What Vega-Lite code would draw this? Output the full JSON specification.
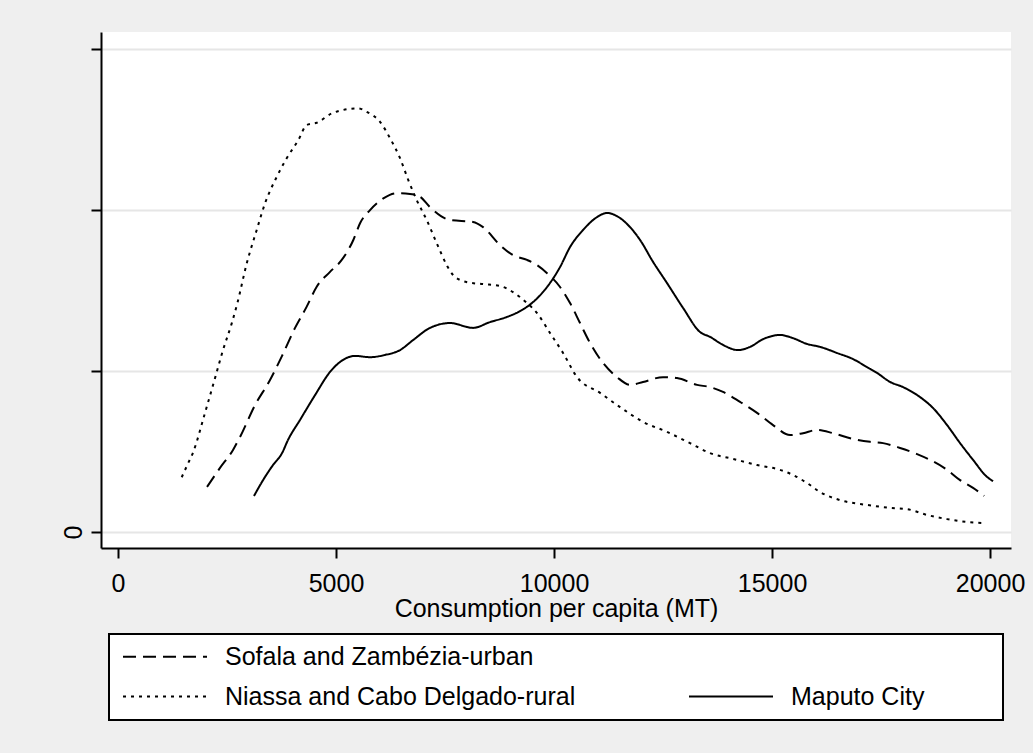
{
  "$schema": "https://vega.github.io/schema/vega-lite/v6.json",
  "width": 910,
  "height": 516,
  "autosize": {"type": "none"},
  "padding": {"left": 101, "top": 32, "right": 22, "bottom": 205},
  "background": "#efefef",
  "config": {
    "view": {"fill": "white", "stroke": null},
    "font": "Liberation Sans",
    "legend": {"strokeWidth": 2}
  },
  "data": {
    "values": [
      {"region": "Sofala and Zambézia-urban", "consumption": 2041, "density": 1.40},
      {"region": "Sofala and Zambézia-urban", "consumption": 2339, "density": 1.99},
      {"region": "Sofala and Zambézia-urban", "consumption": 2638, "density": 2.55},
      {"region": "Sofala and Zambézia-urban", "consumption": 2798, "density": 2.95},
      {"region": "Sofala and Zambézia-urban", "consumption": 3142, "density": 3.94},
      {"region": "Sofala and Zambézia-urban", "consumption": 3486, "density": 4.72},
      {"region": "Sofala and Zambézia-urban", "consumption": 3762, "density": 5.47},
      {"region": "Sofala and Zambézia-urban", "consumption": 4060, "density": 6.34},
      {"region": "Sofala and Zambézia-urban", "consumption": 4328, "density": 7.00},
      {"region": "Sofala and Zambézia-urban", "consumption": 4557, "density": 7.62},
      {"region": "Sofala and Zambézia-urban", "consumption": 4862, "density": 8.08},
      {"region": "Sofala and Zambézia-urban", "consumption": 5131, "density": 8.45},
      {"region": "Sofala and Zambézia-urban", "consumption": 5397, "density": 9.07},
      {"region": "Sofala and Zambézia-urban", "consumption": 5551, "density": 9.59},
      {"region": "Sofala and Zambézia-urban", "consumption": 5780, "density": 10.00},
      {"region": "Sofala and Zambézia-urban", "consumption": 6085, "density": 10.36},
      {"region": "Sofala and Zambézia-urban", "consumption": 6392, "density": 10.52},
      {"region": "Sofala and Zambézia-urban", "consumption": 6697, "density": 10.50},
      {"region": "Sofala and Zambézia-urban", "consumption": 6927, "density": 10.41},
      {"region": "Sofala and Zambézia-urban", "consumption": 7156, "density": 10.09},
      {"region": "Sofala and Zambézia-urban", "consumption": 7615, "density": 9.69},
      {"region": "Sofala and Zambézia-urban", "consumption": 8142, "density": 9.63},
      {"region": "Sofala and Zambézia-urban", "consumption": 8372, "density": 9.47},
      {"region": "Sofala and Zambézia-urban", "consumption": 8762, "density": 8.91},
      {"region": "Sofala and Zambézia-urban", "consumption": 9060, "density": 8.60},
      {"region": "Sofala and Zambézia-urban", "consumption": 9381, "density": 8.45},
      {"region": "Sofala and Zambézia-urban", "consumption": 9610, "density": 8.29},
      {"region": "Sofala and Zambézia-urban", "consumption": 9840, "density": 8.04},
      {"region": "Sofala and Zambézia-urban", "consumption": 10138, "density": 7.61},
      {"region": "Sofala and Zambézia-urban", "consumption": 10367, "density": 7.11},
      {"region": "Sofala and Zambézia-urban", "consumption": 10596, "density": 6.49},
      {"region": "Sofala and Zambézia-urban", "consumption": 10826, "density": 5.87},
      {"region": "Sofala and Zambézia-urban", "consumption": 11124, "density": 5.25},
      {"region": "Sofala and Zambézia-urban", "consumption": 11445, "density": 4.81},
      {"region": "Sofala and Zambézia-urban", "consumption": 11743, "density": 4.57},
      {"region": "Sofala and Zambézia-urban", "consumption": 12041, "density": 4.66},
      {"region": "Sofala and Zambézia-urban", "consumption": 12500, "density": 4.81},
      {"region": "Sofala and Zambézia-urban", "consumption": 12821, "density": 4.78},
      {"region": "Sofala and Zambézia-urban", "consumption": 13280, "density": 4.57},
      {"region": "Sofala and Zambézia-urban", "consumption": 13578, "density": 4.50},
      {"region": "Sofala and Zambézia-urban", "consumption": 13876, "density": 4.35},
      {"region": "Sofala and Zambézia-urban", "consumption": 14266, "density": 4.04},
      {"region": "Sofala and Zambézia-urban", "consumption": 14656, "density": 3.70},
      {"region": "Sofala and Zambézia-urban", "consumption": 15023, "density": 3.32},
      {"region": "Sofala and Zambézia-urban", "consumption": 15413, "density": 3.01},
      {"region": "Sofala and Zambézia-urban", "consumption": 15711, "density": 3.07},
      {"region": "Sofala and Zambézia-urban", "consumption": 16032, "density": 3.17},
      {"region": "Sofala and Zambézia-urban", "consumption": 16399, "density": 3.07},
      {"region": "Sofala and Zambézia-urban", "consumption": 16858, "density": 2.89},
      {"region": "Sofala and Zambézia-urban", "consumption": 17248, "density": 2.80},
      {"region": "Sofala and Zambézia-urban", "consumption": 17546, "density": 2.76},
      {"region": "Sofala and Zambézia-urban", "consumption": 17936, "density": 2.61},
      {"region": "Sofala and Zambézia-urban", "consumption": 18326, "density": 2.42},
      {"region": "Sofala and Zambézia-urban", "consumption": 18624, "density": 2.24},
      {"region": "Sofala and Zambézia-urban", "consumption": 19014, "density": 1.93},
      {"region": "Sofala and Zambézia-urban", "consumption": 19312, "density": 1.61},
      {"region": "Sofala and Zambézia-urban", "consumption": 19610, "density": 1.37},
      {"region": "Sofala and Zambézia-urban", "consumption": 19863, "density": 1.12},

      {"region": "Niassa and Cabo Delgado-rural", "consumption": 1461, "density": 1.70},
      {"region": "Niassa and Cabo Delgado-rural", "consumption": 1589, "density": 2.08},
      {"region": "Niassa and Cabo Delgado-rural", "consumption": 1727, "density": 2.49},
      {"region": "Niassa and Cabo Delgado-rural", "consumption": 1995, "density": 3.70},
      {"region": "Niassa and Cabo Delgado-rural", "consumption": 2225, "density": 4.78},
      {"region": "Niassa and Cabo Delgado-rural", "consumption": 2408, "density": 5.65},
      {"region": "Niassa and Cabo Delgado-rural", "consumption": 2608, "density": 6.48},
      {"region": "Niassa and Cabo Delgado-rural", "consumption": 2736, "density": 7.10},
      {"region": "Niassa and Cabo Delgado-rural", "consumption": 2952, "density": 8.34},
      {"region": "Niassa and Cabo Delgado-rural", "consumption": 3181, "density": 9.38},
      {"region": "Niassa and Cabo Delgado-rural", "consumption": 3372, "density": 10.21},
      {"region": "Niassa and Cabo Delgado-rural", "consumption": 3640, "density": 11.03},
      {"region": "Niassa and Cabo Delgado-rural", "consumption": 3869, "density": 11.61},
      {"region": "Niassa and Cabo Delgado-rural", "consumption": 4135, "density": 12.17},
      {"region": "Niassa and Cabo Delgado-rural", "consumption": 4328, "density": 12.64},
      {"region": "Niassa and Cabo Delgado-rural", "consumption": 4557, "density": 12.71},
      {"region": "Niassa and Cabo Delgado-rural", "consumption": 4901, "density": 13.00},
      {"region": "Niassa and Cabo Delgado-rural", "consumption": 5168, "density": 13.11},
      {"region": "Niassa and Cabo Delgado-rural", "consumption": 5512, "density": 13.16},
      {"region": "Niassa and Cabo Delgado-rural", "consumption": 5704, "density": 13.05},
      {"region": "Niassa and Cabo Delgado-rural", "consumption": 6009, "density": 12.74},
      {"region": "Niassa and Cabo Delgado-rural", "consumption": 6239, "density": 12.23},
      {"region": "Niassa and Cabo Delgado-rural", "consumption": 6468, "density": 11.61},
      {"region": "Niassa and Cabo Delgado-rural", "consumption": 6658, "density": 10.93},
      {"region": "Niassa and Cabo Delgado-rural", "consumption": 6851, "density": 10.31},
      {"region": "Niassa and Cabo Delgado-rural", "consumption": 7080, "density": 9.69},
      {"region": "Niassa and Cabo Delgado-rural", "consumption": 7310, "density": 8.97},
      {"region": "Niassa and Cabo Delgado-rural", "consumption": 7539, "density": 8.29},
      {"region": "Niassa and Cabo Delgado-rural", "consumption": 7684, "density": 7.98},
      {"region": "Niassa and Cabo Delgado-rural", "consumption": 8005, "density": 7.76},
      {"region": "Niassa and Cabo Delgado-rural", "consumption": 8372, "density": 7.70},
      {"region": "Niassa and Cabo Delgado-rural", "consumption": 8762, "density": 7.64},
      {"region": "Niassa and Cabo Delgado-rural", "consumption": 9060, "density": 7.45},
      {"region": "Niassa and Cabo Delgado-rural", "consumption": 9381, "density": 7.11},
      {"region": "Niassa and Cabo Delgado-rural", "consumption": 9610, "density": 6.80},
      {"region": "Niassa and Cabo Delgado-rural", "consumption": 9908, "density": 6.18},
      {"region": "Niassa and Cabo Delgado-rural", "consumption": 10207, "density": 5.56},
      {"region": "Niassa and Cabo Delgado-rural", "consumption": 10528, "density": 4.81},
      {"region": "Niassa and Cabo Delgado-rural", "consumption": 11055, "density": 4.32},
      {"region": "Niassa and Cabo Delgado-rural", "consumption": 11514, "density": 3.88},
      {"region": "Niassa and Cabo Delgado-rural", "consumption": 12041, "density": 3.42},
      {"region": "Niassa and Cabo Delgado-rural", "consumption": 12592, "density": 3.11},
      {"region": "Niassa and Cabo Delgado-rural", "consumption": 13119, "density": 2.76},
      {"region": "Niassa and Cabo Delgado-rural", "consumption": 13578, "density": 2.45},
      {"region": "Niassa and Cabo Delgado-rural", "consumption": 14106, "density": 2.27},
      {"region": "Niassa and Cabo Delgado-rural", "consumption": 14656, "density": 2.08},
      {"region": "Niassa and Cabo Delgado-rural", "consumption": 15184, "density": 1.93},
      {"region": "Niassa and Cabo Delgado-rural", "consumption": 15482, "density": 1.77},
      {"region": "Niassa and Cabo Delgado-rural", "consumption": 15803, "density": 1.52},
      {"region": "Niassa and Cabo Delgado-rural", "consumption": 16101, "density": 1.24},
      {"region": "Niassa and Cabo Delgado-rural", "consumption": 16560, "density": 0.99},
      {"region": "Niassa and Cabo Delgado-rural", "consumption": 17179, "density": 0.84},
      {"region": "Niassa and Cabo Delgado-rural", "consumption": 17707, "density": 0.75},
      {"region": "Niassa and Cabo Delgado-rural", "consumption": 18097, "density": 0.71},
      {"region": "Niassa and Cabo Delgado-rural", "consumption": 18555, "density": 0.53},
      {"region": "Niassa and Cabo Delgado-rural", "consumption": 19014, "density": 0.40},
      {"region": "Niassa and Cabo Delgado-rural", "consumption": 19473, "density": 0.31},
      {"region": "Niassa and Cabo Delgado-rural", "consumption": 19840, "density": 0.28},

      {"region": "Maputo City", "consumption": 3119, "density": 1.12},
      {"region": "Maputo City", "consumption": 3326, "density": 1.61},
      {"region": "Maputo City", "consumption": 3555, "density": 2.08},
      {"region": "Maputo City", "consumption": 3762, "density": 2.45},
      {"region": "Maputo City", "consumption": 3899, "density": 2.86},
      {"region": "Maputo City", "consumption": 4174, "density": 3.48},
      {"region": "Maputo City", "consumption": 4518, "density": 4.25},
      {"region": "Maputo City", "consumption": 4862, "density": 4.97},
      {"region": "Maputo City", "consumption": 5092, "density": 5.28},
      {"region": "Maputo City", "consumption": 5436, "density": 5.47},
      {"region": "Maputo City", "consumption": 5780, "density": 5.43},
      {"region": "Maputo City", "consumption": 6124, "density": 5.50},
      {"region": "Maputo City", "consumption": 6468, "density": 5.65},
      {"region": "Maputo City", "consumption": 6766, "density": 5.96},
      {"region": "Maputo City", "consumption": 7156, "density": 6.34},
      {"region": "Maputo City", "consumption": 7615, "density": 6.49},
      {"region": "Maputo City", "consumption": 8142, "density": 6.34},
      {"region": "Maputo City", "consumption": 8532, "density": 6.52},
      {"region": "Maputo City", "consumption": 8922, "density": 6.68},
      {"region": "Maputo City", "consumption": 9220, "density": 6.86},
      {"region": "Maputo City", "consumption": 9518, "density": 7.14},
      {"region": "Maputo City", "consumption": 9840, "density": 7.61},
      {"region": "Maputo City", "consumption": 10138, "density": 8.23},
      {"region": "Maputo City", "consumption": 10367, "density": 8.85},
      {"region": "Maputo City", "consumption": 10665, "density": 9.38},
      {"region": "Maputo City", "consumption": 10986, "density": 9.78},
      {"region": "Maputo City", "consumption": 11216, "density": 9.91},
      {"region": "Maputo City", "consumption": 11445, "density": 9.81},
      {"region": "Maputo City", "consumption": 11743, "density": 9.47},
      {"region": "Maputo City", "consumption": 11973, "density": 9.07},
      {"region": "Maputo City", "consumption": 12271, "density": 8.39},
      {"region": "Maputo City", "consumption": 12592, "density": 7.73},
      {"region": "Maputo City", "consumption": 12959, "density": 6.96},
      {"region": "Maputo City", "consumption": 13349, "density": 6.21},
      {"region": "Maputo City", "consumption": 13578, "density": 6.06},
      {"region": "Maputo City", "consumption": 13876, "density": 5.81},
      {"region": "Maputo City", "consumption": 14220, "density": 5.65},
      {"region": "Maputo City", "consumption": 14496, "density": 5.75},
      {"region": "Maputo City", "consumption": 14794, "density": 5.99},
      {"region": "Maputo City", "consumption": 15184, "density": 6.12},
      {"region": "Maputo City", "consumption": 15482, "density": 6.02},
      {"region": "Maputo City", "consumption": 15803, "density": 5.84},
      {"region": "Maputo City", "consumption": 16101, "density": 5.75},
      {"region": "Maputo City", "consumption": 16491, "density": 5.56},
      {"region": "Maputo City", "consumption": 16858, "density": 5.37},
      {"region": "Maputo City", "consumption": 17179, "density": 5.12},
      {"region": "Maputo City", "consumption": 17408, "density": 4.94},
      {"region": "Maputo City", "consumption": 17707, "density": 4.66},
      {"region": "Maputo City", "consumption": 18005, "density": 4.50},
      {"region": "Maputo City", "consumption": 18395, "density": 4.19},
      {"region": "Maputo City", "consumption": 18693, "density": 3.85},
      {"region": "Maputo City", "consumption": 19014, "density": 3.32},
      {"region": "Maputo City", "consumption": 19312, "density": 2.76},
      {"region": "Maputo City", "consumption": 19610, "density": 2.24},
      {"region": "Maputo City", "consumption": 19931, "density": 1.71},
      {"region": "Maputo City", "consumption": 20069, "density": 1.58}
    ]
  },
  "mark": {"type": "line", "color": "black", "strokeWidth": 2, "interpolate": "monotone"},
  "encoding": {
    "x": {
      "field": "consumption",
      "type": "quantitative",
      "scale": {"domain": [-390, 20480], "nice": false, "zero": false},
      "axis": {
        "title": "Consumption per capita (MT)",
        "values": [0, 5000, 10000, 15000, 20000],
        "format": "d",
        "labelFontSize": 25,
        "labelColor": "black",
        "labelPadding": 13,
        "labelFlush": false,
        "labelOverlap": false,
        "tickSize": 10,
        "tickWidth": 2,
        "tickColor": "black",
        "domainColor": "black",
        "domainWidth": 2,
        "grid": false,
        "titleFontSize": 25,
        "titleFontWeight": "normal",
        "titleColor": "black",
        "titlePadding": 0
      }
    },
    "y": {
      "field": "density",
      "type": "quantitative",
      "scale": {"domain": [-0.497, 15.53], "nice": false, "zero": false},
      "axis": {
        "title": null,
        "values": [0, 5, 10, 15],
        "labelExpr": "datum.value == 0 ? '0' : ''",
        "labelAngle": 270,
        "labelFontSize": 25,
        "labelColor": "black",
        "labelPadding": 5,
        "labelOverlap": false,
        "tickSize": 10,
        "tickWidth": 2,
        "tickColor": "black",
        "domainColor": "black",
        "domainWidth": 2,
        "grid": true,
        "gridColor": "#e6e6e6",
        "gridWidth": 2
      }
    },
    "strokeDash": {
      "field": "region",
      "type": "nominal",
      "scale": {
        "domain": ["Sofala and Zambézia-urban", "blank", "Niassa and Cabo Delgado-rural", "Maputo City"],
        "range": [[13, 7], [0, 1000], [3, 5], [1, 0]]
      },
      "legend": {
        "title": null,
        "orient": "none",
        "legendX": 8,
        "legendY": 602,
        "columns": 2,
        "values": ["Sofala and Zambézia-urban", "Niassa and Cabo Delgado-rural", "blank", "Maputo City"],
        "labelExpr": "datum.label == 'blank' ? 'MMMMMMMMMa' : datum.label",
        "symbolType": "M-0.85,0H7.55",
        "symbolSize": 400,
        "symbolStrokeWidth": 2,
        "symbolStrokeColor": "black",
        "symbolFillColor": "transparent",
        "labelFontSize": 25,
        "labelColor": "black",
        "labelOffset": 81,
        "labelLimit": 800,
        "columnPadding": 109,
        "rowPadding": 14,
        "padding": 10,
        "fillColor": "white",
        "strokeColor": "black",
        "encode": {
          "labels": {
            "update": {
              "opacity": {"signal": "datum.value === 'blank' ? 0 : 1"}
            }
          }
        }
      }
    }
  }
}
